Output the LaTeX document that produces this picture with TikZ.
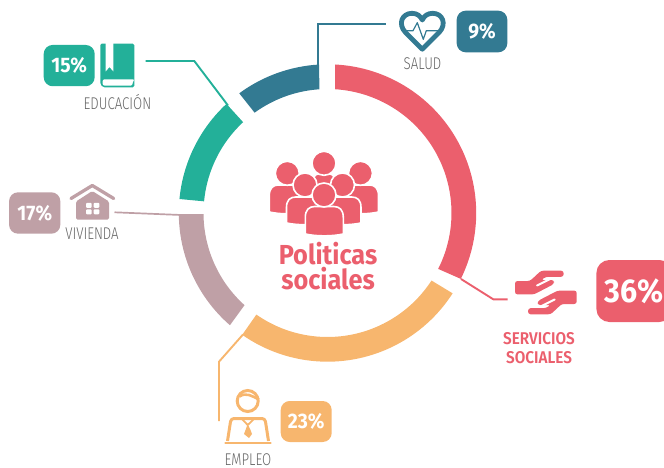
\documentclass[tikz,border=0pt]{standalone}
\usepackage{fontspec}
\setmainfont{Fira Sans}
\newfontfamily\lightf[UprightFont=* Light,FakeStretch=0.78]{Fira Sans}
\newfontfamily\boldf[UprightFont=* SemiBold,FakeStretch=0.9]{Fira Sans}
\newfontfamily\bolderf[UprightFont=* Bold,FakeStretch=0.92]{Fira Sans}
\definecolor{cred}{HTML}{EB5F6D}
\definecolor{cteal}{HTML}{337A92}
\definecolor{cgreen}{HTML}{23B099}
\definecolor{cmauve}{HTML}{BFA0A6}
\definecolor{corange}{HTML}{F7B66E}
\definecolor{cgray}{HTML}{666666}
\newcommand{\seg}[5]{\fill[#1] (#2:148.7pt) arc[start angle=#2,end angle=#3,radius=148.7pt] -- (#4:124pt) arc[start angle=#4,end angle=#5,radius=124pt] -- cycle;}
\newcommand{\bodyshape}[4]{\begin{scope}[shift={(#1,#2)},xscale=#3,yscale=#4]
\path[fill=cred,draw=white,line width=1.6pt] (-1,1) -- (-1,.4) .. controls (-1,.12) and (-.8,0) .. (-.5,0) -- (.5,0) .. controls (.8,0) and (1,.12) .. (1,.4) -- (1,1) .. controls (.4,1.09) and (-.4,1.09) .. (-1,1) -- cycle;
\end{scope}}
\newcommand{\headshape}[3]{\path[fill=cred,draw=white,line width=1.6pt] (#1,#2) circle[radius=#3pt];}
\newcommand{\handshape}{%
\fill[cred,rounded corners=2.5pt] (515,281) -- (530,281) -- (541,270.7) -- (563.6,270.7) -- (563.6,276.8) -- (546,276.8) -- (541,280) -- (554,280) -- (554,284) -- (534,294.4) -- (515,294.4) -- cycle;
\draw[white,line width=2pt,line cap=round] (537,285.5) -- (551,278.6);}
\tikzset{x=1pt,y=-1pt,
 badge/.style={rounded corners=#1,inner sep=0pt,text=white,font=\bolderf\fontsize{21}{21}\selectfont},
 badge/.default=9pt,
 lab/.style={text=cgray,inner sep=0pt,anchor=base,font=\lightf\fontsize{17}{17}\selectfont},
 conn/.style={line width=1.9pt,line join=miter}}
\begin{document}
\begin{tikzpicture}
\useasboundingbox (0,0) rectangle (664,468);
% ring
\begin{scope}[shift={(327.5,213)}]
\seg{cred}{87.1}{-26.3}{-26.8}{86.5}
\seg{corange}{-32.7}{-125}{-125}{-33}
\seg{cmauve}{180.4}{229}{228}{180.5}
\seg{cgreen}{174.6}{132.8}{132.9}{174.6}
\seg{cteal}{126.4}{93.2}{93.8}{126}
\end{scope}
% connector points
\coordinate (t1) at (385.5,24); \coordinate (t2) at (318,24); \coordinate (t3) at (318,66);
\coordinate (g1) at (145.7,61); \coordinate (g2) at (194.3,61); \coordinate (g3) at (228,105.5);
\coordinate (m1) at (114.5,212.3); \coordinate (m2) at (181,215);
\coordinate (r1) at (507.7,299.3); \coordinate (r2) at (493.3,299.3); \coordinate (r3) at (461,279);
\coordinate (o1) at (219,421); \coordinate (o2) at (219,361.7); \coordinate (o3) at (243,334.5);
\draw[conn,cteal] (t1) -- (t2) -- (t3);
\draw[conn,cgreen] (g1) -- (g2) -- (g3);
\draw[conn,cmauve,line width=1.7pt] (m1) -- (m2);
\draw[conn,cred] (r1) -- (r2) -- (r3);
\draw[conn,corange] (o1) -- (o2) -- (o3);
% badges
\node[badge,fill=cgreen,minimum width=51pt,minimum height=41.3pt] (b15) at (69.2,65.6) {15\%};
\node[badge,fill=cmauve,minimum width=51.3pt,minimum height=41.4pt] (b17) at (34.7,213) {17\%};
\node[badge,fill=cteal,minimum width=50.6pt,minimum height=41.6pt] (b9) at (482,31.5) {9\%};
\node[badge,fill=corange,minimum width=51pt,minimum height=41pt] (b23) at (306.2,421.5) {23\%};
\node[badge=13pt,fill=cred,minimum width=76pt,minimum height=62pt,font=\bolderf\fontsize{33}{33}\selectfont] (b36) at (634.4,291) {36\%};
% labels
\node[lab] (leduc) at (117.5,110) {EDUCACIÓN};
\node[lab] (lviv) at (92,239) {VIVIENDA};
\node[lab] (lsal) at (422.5,69.5) {SALUD};
\node[lab] (lemp) at (248,465.5) {EMPLEO};
\node[inner sep=0pt,anchor=base,text=cred,font=\boldf\fontsize{17}{17}\selectfont] (ls1) at (539,344.5) {SERVICIOS};
\node[inner sep=0pt,anchor=base,text=cred,font=\boldf\fontsize{17}{17}\selectfont] (ls2) at (539,363.5) {SOCIALES};
\node[inner sep=0pt,anchor=base,text=cred,font=\bolderf\fontsize{27.5}{27.5}\selectfont] (tt1) at (328,264) {Politicas};
\node[inner sep=0pt,anchor=base,text=cred,font=\bolderf\fontsize{27.5}{27.5}\selectfont] (tt2) at (328,289) {sociales};
% group icon
\bodyshape{324}{174}{11}{22}
\headshape{324}{163.3}{12}
\bodyshape{287.3}{185}{18}{27}
\bodyshape{360.5}{185}{18}{27}
\headshape{287.3}{173.3}{12}
\headshape{360.5}{173.3}{12}
\bodyshape{305}{197}{18.5}{26}
\bodyshape{342.5}{197}{18.5}{26}
\headshape{305}{185}{12}
\headshape{342.5}{185}{12}
\bodyshape{324.3}{206.5}{19}{27.5}
\headshape{324}{195}{12}
% heart
\draw[cteal,line width=4.8pt,line join=round] (422.3,49.2) -- (405.5,32.5) .. controls (397.5,24) and (402,13.3) .. (412,13.3) .. controls (417,13.3) and (420.5,16) .. (422.3,20) .. controls (424.1,16) and (427.6,13.3) .. (432.6,13.3) .. controls (442.6,13.3) and (447.1,24) .. (439.1,32.5) -- cycle;
\draw[cteal,line width=1.2pt,line join=round] (403.5,30.7) -- (413,30.7) -- (417.3,22.7) -- (423.3,39.3) -- (426.3,30.7) -- (441,30.7);
% book
\fill[cgreen,rounded corners=1.5pt] (100.3,43.7) -- (134.3,43.7) -- (134.3,87.3) -- (103,87.3) -- (100.3,84) -- cycle;
\fill[white] (105.6,43) -- (113.4,43) -- (113.4,71.5) -- (109.5,67) -- (105.6,71.5) -- cycle;
\fill[white,rounded corners=2pt] (102.6,85.6) -- (132.6,85.6) -- (132.6,81) -- (134.5,79.3) -- (102.6,79.3) -- cycle;
% house
\draw[cmauve,line width=3.3pt,line cap=round,line join=round] (71,198.5) -- (92.3,185.5) -- (113.7,198.5);
\fill[cmauve,rounded corners=1.5pt] (76,201.5) -- (92.3,191) -- (109,201.5) -- (109,219.7) -- (76,219.7) -- cycle;
\foreach \xx/\yy in {86/202.8,93.6/202.8,86/209.3,93.6/209.3}{\fill[white,rounded corners=1pt] (\xx,\yy) rectangle ++(5.7,5);}
% person
\draw[corange,line width=3pt] (247.7,401) circle[radius=10.5pt];
\draw[corange,line width=2.6pt] (239.5,396.5) .. controls (246,392) and (252,396) .. (259,399.5);
\draw[corange,line width=3pt,line join=round,rounded corners=3pt] (227.5,441) -- (231,418.5) -- (265,418.5) -- (268.5,441);
\draw[corange,line width=1.8pt] (241.5,418.5) -- (247.7,425) -- (254.5,418.5);
\fill[corange] (247.7,424) -- (250.5,430) -- (252,434) -- (249,438) -- (244,434) -- (245.5,430) -- cycle;
\draw[corange,line width=2.6pt,line cap=round] (225.5,443) -- (270.5,443);
% hands
\handshape
\begin{scope}[rotate around={180:(545.85,292.5)}]
\handshape
\end{scope}
\end{tikzpicture}
\end{document}
